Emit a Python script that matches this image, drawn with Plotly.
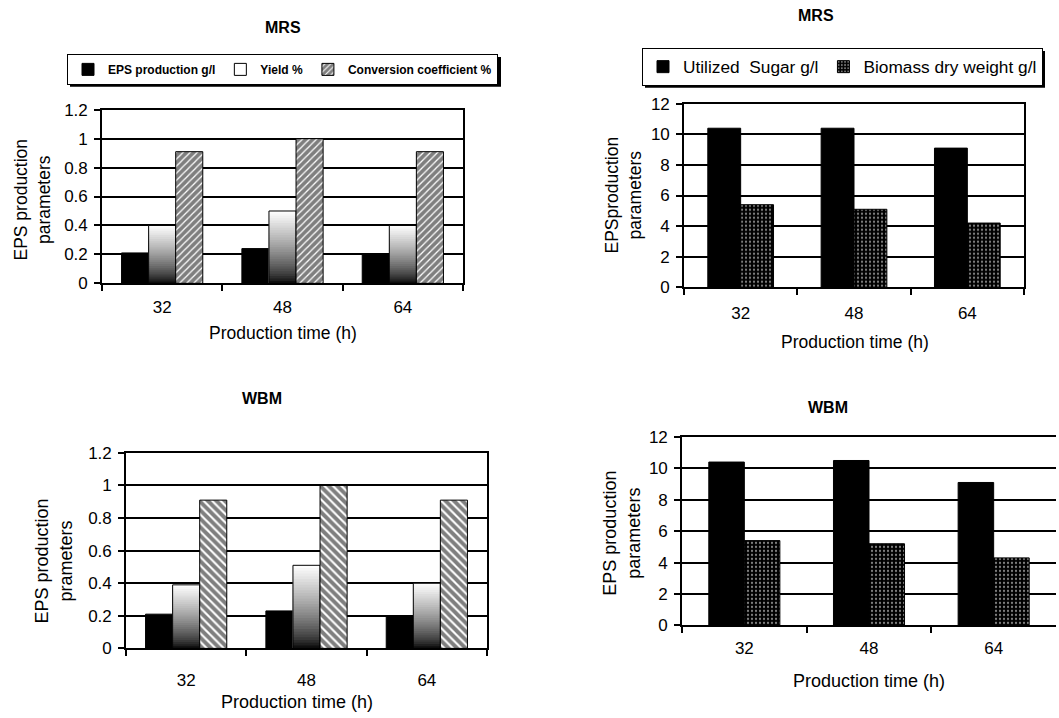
import plotly.graph_objects as go

W = 1059
H = 718
TOP = 8          # observed vertical offset of the figure in the photographed page
SY = 0.976       # observed vertical scale of the photographed page
FONT = "Liberation Sans, Arial, sans-serif"

# ---------------- data ----------------
hours = ["32", "48", "64"]

mrs_eps = [0.21, 0.24, 0.20]
mrs_yield = [0.40, 0.50, 0.40]
mrs_conv = [0.91, 1.00, 0.91]
mrs_sugar = [10.4, 10.4, 9.1]
mrs_biomass = [5.4, 5.1, 4.2]

wbm_eps = [0.21, 0.23, 0.20]
wbm_yield = [0.39, 0.51, 0.40]
wbm_conv = [0.91, 1.00, 0.91]
wbm_sugar = [10.4, 10.5, 9.1]
wbm_biomass = [5.4, 5.2, 4.3]

small_ticks = [0, 0.2, 0.4, 0.6, 0.8, 1, 1.2]
large_ticks = [0, 2, 4, 6, 8, 10, 12]

# ---------------- helpers ----------------
def px(x):
    return x / W

def py(y):
    return 1 - ((y - TOP) / SY) / H

def xd(a, b):
    return [px(a), min(px(b), 1.0)]

def yd(top, bottom):
    return [py(bottom), py(top)]

def gray(f):
    g = int(round(255 * (f ** 0.7)))
    return f"rgb({g},{g},{g})"

fig = go.Figure()
N_GRAD = 30
LW = 1.6


def three_series(xa, ya, eps, yld, conv, conv_shape, conv_size, conv_sol, legend_on):
    w = 0.225
    fig.add_trace(go.Bar(
        x=hours, y=eps, xaxis=xa, yaxis=ya, width=w, offset=-0.3375,
        marker=dict(color="black", line=dict(color="black", width=1)),
        name="EPS production g/l", showlegend=legend_on, legend="legend"))
    # gradient-filled yield bars (white at top to black at bottom)
    for k in range(N_GRAD):
        frac_top = (N_GRAD - k) / N_GRAD
        fig.add_trace(go.Bar(
            x=hours, y=[v * frac_top for v in yld], xaxis=xa, yaxis=ya,
            width=w, offset=-0.1125,
            marker=dict(color=gray((N_GRAD - k - 0.5) / N_GRAD), line=dict(width=0)),
            showlegend=False, hoverinfo="skip"))
    fig.add_trace(go.Bar(
        x=hours, y=yld, xaxis=xa, yaxis=ya, width=w, offset=-0.1125,
        marker=dict(color="rgba(255,255,255,0)", line=dict(color="black", width=1)),
        name="Yield %", showlegend=legend_on, legend="legend"))
    fig.add_trace(go.Bar(
        x=hours, y=conv, xaxis=xa, yaxis=ya, width=w, offset=0.1125,
        marker=dict(color="white", line=dict(color="black", width=1),
                    pattern=dict(shape=conv_shape, fgcolor="black", bgcolor="white",
                                 size=conv_size, solidity=conv_sol)),
        name="Conversion coefficient %", showlegend=legend_on, legend="legend"))


def two_series(xa, ya, sugar, biomass, w, legend_on):
    fig.add_trace(go.Bar(
        x=hours, y=sugar, xaxis=xa, yaxis=ya, width=w, offset=-w,
        marker=dict(color="black", line=dict(color="black", width=1)),
        name="Utilized\u00a0 Sugar g/l", showlegend=legend_on, legend="legend2"))
    fig.add_trace(go.Bar(
        x=hours, y=biomass, xaxis=xa, yaxis=ya, width=w, offset=0,
        marker=dict(color="black", line=dict(color="black", width=1),
                    pattern=dict(shape=".", fgcolor="white", bgcolor="black",
                                 size=4, solidity=0.25)),
        name="Biomass dry weight g/l", showlegend=legend_on, legend="legend2"))


three_series("x", "y", mrs_eps, mrs_yield, mrs_conv, "/", 5, 0.75, True)
two_series("x2", "y2", mrs_sugar, mrs_biomass, 0.29, True)
three_series("x3", "y3", wbm_eps, wbm_yield, wbm_conv, "\\", 6, 0.65, False)
two_series("x4", "y4", wbm_sugar, wbm_biomass, 0.285, False)

# ---------------- axes ----------------
tickfont = dict(family=FONT, size=17, color="black")

def xaxis(dom, anchor, standoff):
    return dict(domain=dom, anchor=anchor, type="category", categoryorder="array",
                categoryarray=hours, tickson="boundaries", ticks="outside", ticklen=6,
                tickcolor="black", tickwidth=LW, showline=True, linecolor="black",
                linewidth=LW, mirror=True, showgrid=False, tickfont=tickfont,
                ticklabelstandoff=standoff, range=[-0.5, 2.5], fixedrange=True)

def yaxis(dom, anchor, rng, vals, mirror=True):
    return dict(domain=dom, anchor=anchor, range=rng, tickvals=vals, ticks="outside",
                ticklen=6, tickcolor="black", tickwidth=LW, showline=True,
                linecolor="black", linewidth=LW, mirror=mirror, showgrid=True,
                gridcolor="black", gridwidth=LW, zeroline=False, tickfont=tickfont,
                ticklabelstandoff=3, fixedrange=True)

fig.update_layout(
    xaxis=xaxis(xd(102, 463), "y", 7),
    yaxis=yaxis(yd(109, 283), "x", [0, 1.2], small_ticks),
    xaxis2=xaxis(xd(684, 1024), "y2", 10),
    yaxis2=yaxis(yd(103, 287), "x2", [0, 12], large_ticks),
    xaxis3=xaxis(xd(126, 487), "y3", 15),
    yaxis3=yaxis(yd(453, 649), "x3", [0, 1.2], small_ticks),
    xaxis4=xaxis(xd(682, 1056), "y4", 6),
    yaxis4=yaxis(yd(437, 626), "x4", [0, 12], large_ticks, mirror=False),
)

# ---------------- legends ----------------
fig.update_layout(
    legend=dict(orientation="h", x=px(67), y=py(53), xanchor="left", yanchor="top",
                bgcolor="white", bordercolor="black", borderwidth=1,
                font=dict(family=FONT, size=12, color="black", weight="bold"),
                itemclick=False, itemdoubleclick=False),
    legend2=dict(orientation="h", x=px(642), y=py(47), xanchor="left", yanchor="top",
                 bgcolor="white", bordercolor="black", borderwidth=1,
                 font=dict(family=FONT, size=17.3, color="black"),
                 itemclick=False, itemdoubleclick=False),
)

# legend drop shadows
shapes = []
for (x0, y0, x1, y1) in [(70, 56, 501, 86), (645, 50, 1045, 87)]:
    shapes.append(dict(type="rect", xref="paper", yref="paper",
                       x0=px(x0), x1=px(x1), y0=py(y1), y1=py(y0),
                       fillcolor="black", line=dict(width=0), layer="above"))

# ---------------- text ----------------
ann = []

def text(s, x, y, size, bold=False, angle=0):
    ann.append(dict(text=f"<b>{s}</b>" if bold else s, x=px(x), y=py(y),
                    xref="paper", yref="paper", showarrow=False, textangle=angle,
                    xanchor="center", yanchor="middle",
                    font=dict(family=FONT, size=size, color="black")))

text("MRS", 283, 27, 16, bold=True)
text("MRS", 816, 15, 16, bold=True)
text("WBM", 262, 398, 16, bold=True)
text("WBM", 828, 408, 16, bold=True)

text("Production time (h)", 283, 333, 17.5)
text("Production time (h)", 855, 342, 17.5)
text("Production time (h)", 297, 703, 18)
text("Production time (h)", 869, 682, 18)

text("EPS production<br>parameters", 33, 199, 17.5, angle=-90)
text("EPSproduction<br>parameters", 624, 195, 17.5, angle=-90)
text("EPS production<br>prameters", 54, 562, 18, angle=-90)
text("EPS production<br>parameters", 622, 534, 18, angle=-90)

fig.update_layout(
    annotations=ann, shapes=shapes,
    barmode="overlay", width=W, height=H,
    margin=dict(l=0, r=0, t=0, b=0),
    paper_bgcolor="white", plot_bgcolor="white",
    font=dict(family=FONT, color="black"),
)

fig.write_html("out.html", config={"displayModeBar": False})
